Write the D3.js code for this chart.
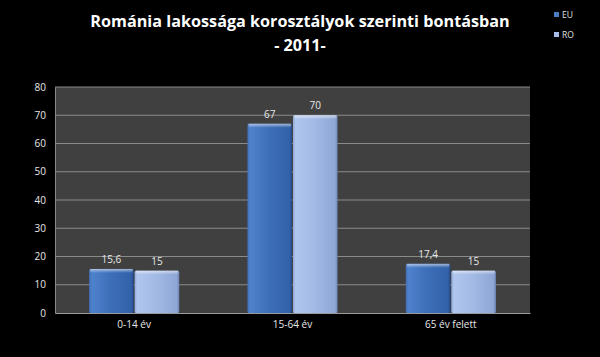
<!DOCTYPE html>
<html><head><meta charset="utf-8">
<script src="https://cdn.jsdelivr.net/npm/d3@7"></script>
<style>html,body{margin:0;padding:0;background:#000;}svg{display:block;}</style>
</head><body>
<svg id="c" width="600" height="357"></svg>
<script>
const categories = ["0-14 év", "15-64 év", "65 év felett"];
const seriesNames = ["EU", "RO"];
const euValues = [15.6, 67, 17.4];
const roValues = [15, 70, 15];
const valueLabels = [["15,6","67","17,4"],["15","70","15"]];
const yTicks = [0,10,20,30,40,50,60,70,80];

const svg = d3.select("#c");
const W=600,H=357;
svg.append("rect").attr("width",W).attr("height",H).attr("fill","#000");
const m={l:55,r:70,t:87,b:44};
const x = d3.scaleBand().domain(categories).range([m.l, W-m.r]).paddingInner(0).paddingOuter(0);
const x1 = d3.scaleBand().domain(seriesNames).range([0, x.bandwidth()]).paddingInner(0.02).paddingOuter(0.75);
const y = d3.scaleLinear().domain([0,80]).range([H-m.b, m.t]);

const defs = svg.append("defs");
function grad(id, stops){
  const g = defs.append("linearGradient").attr("id",id).attr("x1","0").attr("x2","1").attr("y1","0").attr("y2","0");
  stops.forEach(s=>g.append("stop").attr("offset",s[0]).attr("stop-color",s[1]));
}
grad("gEU",[[0,"#3f6fb5"],[0.06,"#4f82cc"],[0.5,"#3c6eb8"],[0.94,"#3262a8"],[1,"#26498a"]]);
grad("gRO",[[0,"#8fa8d6"],[0.06,"#b0c6ee"],[0.5,"#a2b9e4"],[0.94,"#8ea7d6"],[1,"#7088b8"]]);
const gt = defs.append("linearGradient").attr("id","gTop").attr("x1","0").attr("x2","0").attr("y1","0").attr("y2","1");
gt.append("stop").attr("offset",0).attr("stop-color","#fff").attr("stop-opacity",0.55);
gt.append("stop").attr("offset",1).attr("stop-color","#fff").attr("stop-opacity",0);

svg.append("rect").attr("x",m.l).attr("y",m.t).attr("width",W-m.r-m.l).attr("height",H-m.b-m.t).attr("fill","#404040");

svg.append("g").selectAll("line").data(yTicks.filter(d=>d>0)).join("line")
  .attr("x1",m.l).attr("x2",W-m.r).attr("y1",d=>y(d)).attr("y2",d=>y(d))
  .attr("stroke","#8a8a8a").attr("stroke-width",1);

const yAxis = d3.axisLeft(y).tickValues(yTicks).tickSize(0).tickPadding(9);
const ya = svg.append("g").attr("transform",`translate(${m.l},0)`).call(yAxis);
ya.select(".domain").attr("stroke","#8a8a8a");
ya.selectAll("text").attr("fill","#e8e8e8").attr("font-family","Open Sans, sans-serif").attr("font-size",10);

const xAxis = d3.axisBottom(x).tickSize(0).tickPadding(8);
const xa = svg.append("g").attr("transform",`translate(0,${H-m.b})`).call(xAxis);
xa.select(".domain").attr("stroke","#9a9a9a");
xa.selectAll("text").attr("fill","#e8e8e8").attr("font-family","Open Sans, sans-serif").attr("font-size",10);

const series = [euValues, roValues];
const grads = ["url(#gEU)","url(#gRO)"];
series.forEach((vals, si)=>{
  const g = svg.append("g");
  const bw = x1.bandwidth();
  g.selectAll("rect.bar").data(vals).join("rect").attr("class","bar")
    .attr("x",(d,i)=>x(categories[i])+x1(seriesNames[si]))
    .attr("y",d=>y(d)).attr("width",bw).attr("height",d=>y(0)-y(d))
    .attr("fill",grads[si]).attr("rx",1.5);
  g.selectAll("rect.top").data(vals).join("rect").attr("class","top")
    .attr("x",(d,i)=>x(categories[i])+x1(seriesNames[si])+1)
    .attr("y",d=>y(d)).attr("width",bw-2).attr("height",4)
    .attr("fill","url(#gTop)");
  g.selectAll("text").data(vals).join("text")
    .attr("x",(d,i)=>x(categories[i])+x1(seriesNames[si])+bw/2)
    .attr("y",d=>y(d)-6)
    .attr("text-anchor","middle").attr("fill","#e8e8e8")
    .attr("font-family","Open Sans, sans-serif").attr("font-size",10)
    .text((d,i)=>valueLabels[si][i]);
});

const t = svg.append("text").attr("text-anchor","middle").attr("fill","#fff")
  .attr("font-family","Open Sans, sans-serif").attr("font-weight","bold").attr("font-size",16.2);
t.append("tspan").attr("x",300).attr("y",27).text("Románia lakossága korosztályok szerinti bontásban");
t.append("tspan").attr("x",300).attr("y",51).text("- 2011-");

const lg = svg.append("g");
const legCols = ["#4a7cc4","#a6bde8"];
seriesNames.forEach((n,i)=>{
  lg.append("rect").attr("x",554).attr("y",12+i*20).attr("width",5).attr("height",5).attr("fill",legCols[i]);
  lg.append("text").attr("x",562).attr("y",18+i*20).attr("fill","#e0e0e0")
    .attr("font-family","Open Sans, sans-serif").attr("font-size",8.5).text(n);
});
</script>
</body></html>
